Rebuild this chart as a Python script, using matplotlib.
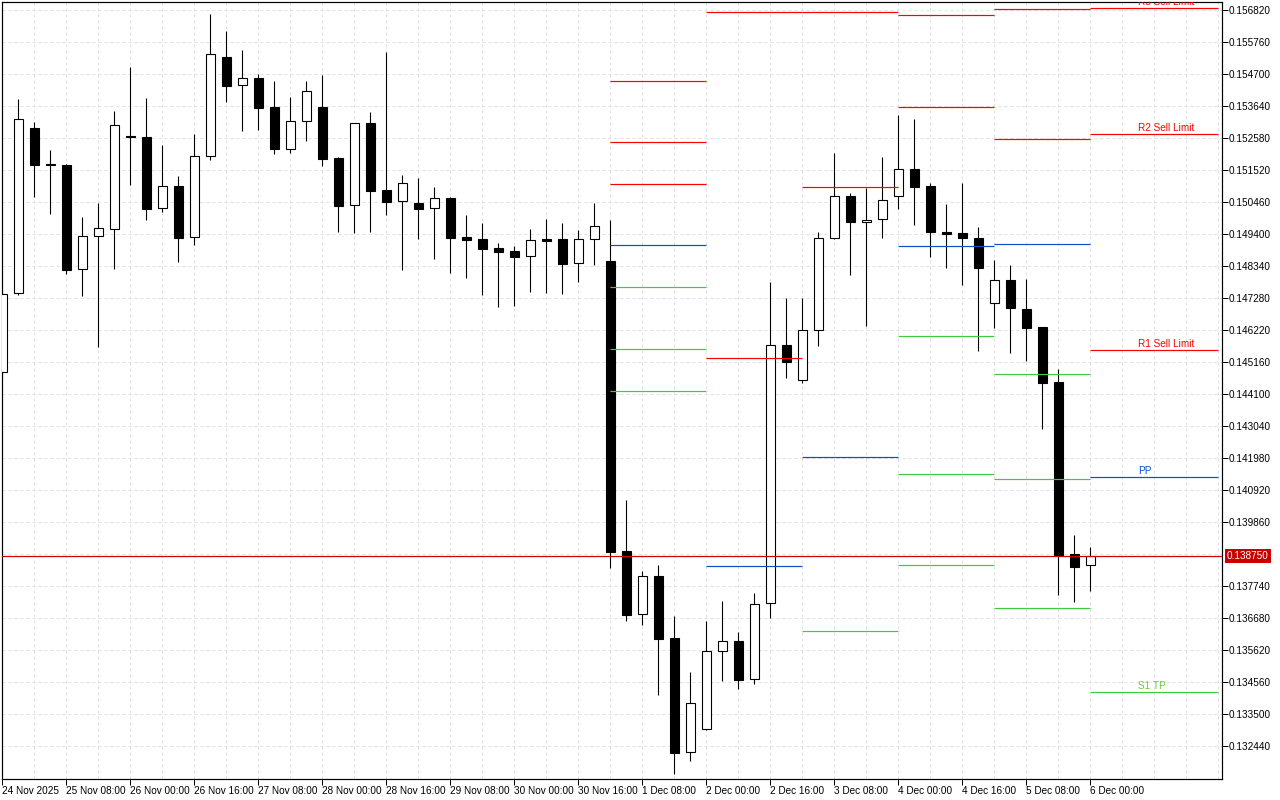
import math
import matplotlib
matplotlib.use("Agg")
import matplotlib.pyplot as plt
import matplotlib.transforms as mtransforms

plt.rcParams['font.family'] = ['Liberation Sans', 'DejaVu Sans']

# H4 candles, first one is 24 Nov 16:00, last one 6 Dec 00:00
opens = [0.144828, 0.147445, 0.152921, 0.151738, 0.151695, 0.148240, 0.149334, 0.149565,
         0.152649, 0.152623, 0.150261, 0.150990, 0.149300, 0.151984, 0.155263, 0.154335,
         0.154567, 0.153617, 0.152215, 0.153143, 0.153617, 0.151917, 0.150360, 0.153077,
         0.150857, 0.150493, 0.150437, 0.150261, 0.150602, 0.149310, 0.149244, 0.148946,
         0.148847, 0.148691, 0.149244, 0.149244, 0.148439, 0.149234, 0.148515, 0.138909,
         0.136812, 0.138081, 0.136027, 0.132241, 0.133023, 0.135587, 0.135918, 0.134659,
         0.137177, 0.145723, 0.144587, 0.146223, 0.149290, 0.150659, 0.149820, 0.149900,
         0.150655, 0.151570, 0.151006, 0.149476, 0.149450, 0.149281, 0.147118, 0.147893,
         0.146935, 0.146332, 0.144514, 0.138816, 0.138439]
highs = [0.147555, 0.153882, 0.153120, 0.152192, 0.151729, 0.149973, 0.150437, 0.153484,
         0.154942, 0.153915, 0.152358, 0.151331, 0.152722, 0.156697, 0.156134, 0.155505,
         0.154710, 0.154478, 0.153948, 0.154478, 0.154677, 0.151960, 0.153087, 0.153451,
         0.155439, 0.151364, 0.151265, 0.150967, 0.150635, 0.150039, 0.149774, 0.149112,
         0.149012, 0.149575, 0.149907, 0.149774, 0.149542, 0.150427, 0.149874, 0.140599,
         0.138247, 0.138445, 0.136756, 0.134901, 0.136590, 0.137263, 0.136226, 0.137518,
         0.147807, 0.147290, 0.147303, 0.149483, 0.152090, 0.150765, 0.150927, 0.151957,
         0.153352, 0.153219, 0.151099, 0.150404, 0.151086, 0.149645, 0.148545, 0.148390,
         0.147919, 0.146332, 0.144944, 0.139446, 0.139055]
lows = [0.144573, 0.147399, 0.150645, 0.150082, 0.148085, 0.147366, 0.145677, 0.148260,
        0.151043, 0.149883, 0.150148, 0.148492, 0.149055, 0.151871, 0.153792, 0.152832,
        0.152865, 0.152070, 0.152103, 0.152500, 0.151672, 0.149486, 0.149453, 0.149486,
        0.150049, 0.148227, 0.149234, 0.148592, 0.148128, 0.147962, 0.147399, 0.146992,
        0.147015, 0.147498, 0.147465, 0.147422, 0.147830, 0.148383, 0.138356, 0.136600,
        0.136458, 0.134149, 0.131532, 0.131963, 0.132996, 0.134603, 0.134348, 0.134513,
        0.136690, 0.144653, 0.144477, 0.145696, 0.149251, 0.148062, 0.146372, 0.149290,
        0.150248, 0.149724, 0.148638, 0.148270, 0.147707, 0.145547, 0.146293, 0.145468,
        0.145219, 0.142967, 0.137468, 0.137206, 0.137601]
closes = [0.147412, 0.153209, 0.151705, 0.151685, 0.148217, 0.149334, 0.149599, 0.153010,
          0.152616, 0.150248, 0.150990, 0.149287, 0.151984, 0.155362, 0.154322, 0.154567,
          0.153593, 0.152235, 0.153143, 0.154137, 0.151904, 0.150347, 0.153077, 0.150844,
          0.150480, 0.151089, 0.150248, 0.150592, 0.149287, 0.149221, 0.148923, 0.148823,
          0.148658, 0.149211, 0.149188, 0.148426, 0.149244, 0.149665, 0.138886, 0.136799,
          0.138071, 0.136004, 0.132228, 0.133864, 0.135587, 0.135918, 0.134646, 0.137163,
          0.145723, 0.145183, 0.146223, 0.149290, 0.150659, 0.149820, 0.149887, 0.150549,
          0.151556, 0.150980, 0.149463, 0.149423, 0.149267, 0.148270, 0.147893, 0.146949,
          0.146306, 0.144487, 0.138793, 0.138373, 0.138750]

current_price = 0.138750

# daily pivot levels, each drawn from the first bar of a day to the next day
day_start = [38, 44, 50, 56, 62, 68]
day_end = [44, 50, 56, 62, 68, 76]
nan = float('nan')
r3 = [0.154468, nan, nan, nan, nan, 0.156886]
r2 = [0.152447, 0.156757, 0.156764, 0.156664, 0.156873, 0.152712]
r1 = [0.151056, 0.145289, 0.150983, 0.153613, 0.152553, 0.145567]
pp = [0.149035, 0.138429, 0.142020, 0.149029, 0.149069, 0.141377]
s1 = [0.147644, nan, 0.136246, 0.146018, 0.144776, 0.134229]
s2 = [0.145590, nan, nan, 0.141460, 0.141294, nan]
s3 = [0.144199, nan, nan, 0.138439, 0.137024, nan]

last_labels = ['R3 Sell Limit', 'R2 Sell Limit', 'R1 Sell Limit', 'PP', 'S1 TP']

ytick_labels = ['0.156820', '0.155760', '0.154700', '0.153640', '0.152580', '0.151520',
                '0.150460', '0.149400', '0.148340', '0.147280', '0.146220', '0.145160',
                '0.144100', '0.143040', '0.141980', '0.140920', '0.139860', '0.137740',
                '0.136680', '0.135620', '0.134560', '0.133500', '0.132440']
grid_prices = [float(s) for s in ytick_labels] + [0.138800]

xtick_pos = [0, 4, 8, 12, 16, 20, 24, 28, 32, 36, 40, 44, 48, 52, 56, 60, 64, 68]
xtick_labels = ['24 Nov 2025', '25 Nov 08:00', '26 Nov 00:00', '26 Nov 16:00', '27 Nov 08:00',
                '28 Nov 00:00', '28 Nov 16:00', '29 Nov 08:00', '30 Nov 00:00', '30 Nov 16:00',
                '1 Dec 08:00', '2 Dec 00:00', '2 Dec 16:00', '3 Dec 08:00', '4 Dec 00:00',
                '4 Dec 16:00', '5 Dec 08:00', '6 Dec 00:00']

RED = '#ff0000'
BLUE = '#0c50c8'
GREEN = '#3fcc3f'
PX = 0.72  # one pixel in points at 100 dpi

fig = plt.figure(figsize=(12.8, 8), dpi=100)
ax = fig.add_axes([2 / 1280, 21 / 800, 1220 / 1280, 777 / 800])
ax.set_xlim(-0.02, 76.23)
ax.set_ylim(0.131357, 0.157095)

# grid
for k in range(0, 78, 2):
    ax.axvline(k, color='#e0e0e0', lw=PX, ls=(0, (3, 3)), zorder=0)
for p in grid_prices:
    ax.axhline(p, color='#e0e0e0', lw=PX, ls=(0, (3, 3)), zorder=0)

# candles
xs = list(range(len(opens)))
ax.vlines(xs, lows, highs, color='black', lw=PX * 1.1, zorder=2)
bottoms = [min(o, c) for o, c in zip(opens, closes)]
heights = [abs(c - o) for o, c in zip(opens, closes)]
fills = ['white' if c >= o else 'black' for o, c in zip(opens, closes)]
ax.bar(xs, heights, bottom=bottoms, width=0.6, color=fills, edgecolor='black',
       linewidth=PX * 1.1, zorder=3)

# pivot levels
for lvl, col in [(r3, RED), (r2, RED), (r1, RED), (pp, BLUE), (s1, GREEN), (s2, GREEN), (s3, GREEN)]:
    for a, b, v in zip(day_start, day_end, lvl):
        if not math.isnan(v):
            ax.hlines(v, a, b, color=col, lw=PX * 1.2, zorder=4)

txt_off = mtransforms.offset_copy(ax.transData, fig=fig, x=0, y=3, units='dots')
label_vals = [r3[-1], r2[-1], r1[-1], pp[-1], s1[-1]]
label_cols = [RED, RED, RED, BLUE, '#6acd2a']
for lab, v, col in zip(last_labels, label_vals, label_cols):
    ax.text(71, v, lab, color=col, fontsize=7.2, ha='left', va='baseline',
            transform=txt_off, clip_on=True, zorder=6)

# current price line + label on the axis
ax.axhline(current_price, color='#d40000', lw=PX * 1.2, zorder=5)
trans = mtransforms.blended_transform_factory(ax.transAxes, ax.transData)
trans = trans + mtransforms.ScaledTranslation(5 / 100, 0, fig.dpi_scale_trans)
ax.text(1.0, current_price, '%.6f' % current_price, transform=trans, ha='left', va='center',
        color='white', fontsize=7.2, clip_on=False, zorder=10,
        bbox=dict(boxstyle='square,pad=0.22', fc='#c80000', ec='none'))

# axes
ax.yaxis.tick_right()
ax.set_yticks([float(s) for s in ytick_labels])
ax.set_yticklabels(ytick_labels)
ax.set_xticks(xtick_pos)
ax.set_xticklabels(xtick_labels)
for lbl in ax.get_xticklabels():
    lbl.set_ha('left')
ax.tick_params(axis='y', direction='out', length=4, width=PX, pad=1, labelsize=7.2)
ax.tick_params(axis='x', direction='out', length=4, width=PX, pad=1, labelsize=7.2)
for sp in ax.spines.values():
    sp.set_linewidth(PX * 1.2)
    sp.set_color('black')

fig.savefig('out.png', dpi=100)
